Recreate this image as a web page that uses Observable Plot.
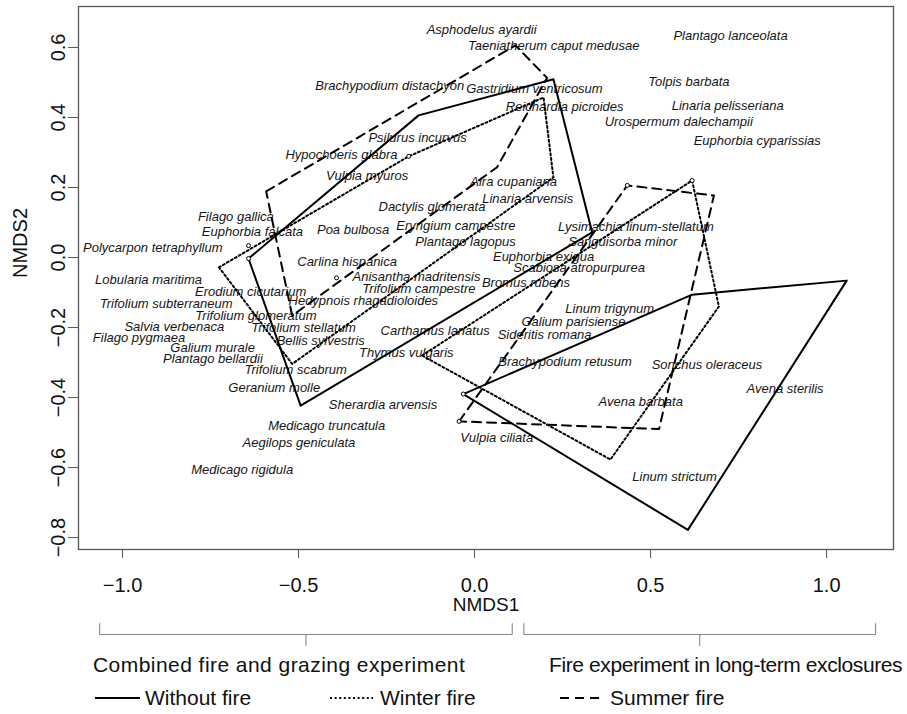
<!DOCTYPE html>
<html><head><meta charset="utf-8">
<script src="https://cdn.jsdelivr.net/npm/d3@7"></script>
<script src="https://cdn.jsdelivr.net/npm/@observablehq/plot@0.6"></script>
<style>
body{margin:0;background:#fff;}
#wrap{position:relative;width:907px;height:714px;font-family:"Liberation Sans",Arial,sans-serif;color:#111;overflow:hidden;}
#wrap svg{display:block;}
.grp{position:absolute;font-size:21px;line-height:22px;white-space:nowrap;}
.leg{position:absolute;font-size:21px;line-height:22px;white-space:nowrap;}
</style></head><body><div id="wrap"></div>
<script>
// ---- data ----
const speciesNames = ["Asphodelus ayardii","Taeniatherum caput medusae","Plantago lanceolata","Brachypodium distachyon","Gastridium ventricosum","Tolpis barbata","Reichardia picroides","Linaria pelisseriana","Urospermum dalechampii","Psilurus incurvus","Euphorbia cyparissias","Hypochoeris glabra","Vulpia myuros","Aira cupaniana","Filago gallica","Linaria arvensis","Dactylis glomerata","Euphorbia falcata","Poa bulbosa","Eryngium campestre","Lysimachia linum-stellatum","Polycarpon tetraphyllum","Plantago lagopus","Sanguisorba minor","Carlina hispanica","Euphorbia exigua","Scabiosa atropurpurea","Lobularia maritima","Anisantha madritensis","Bromus rubens","Erodium cicutarium","Trifolium campestre","Hedypnois rhagadioloides","Trifolium subterraneum","Linum trigynum","Trifolium glomeratum","Galium parisiense","Salvia verbenaca","Trifolium stellatum","Carthamus lanatus","Sideritis romana","Filago pygmaea","Bellis sylvestris","Galium murale","Thymus vulgaris","Plantago bellardii","Brachypodium retusum","Sonchus oleraceus","Trifolium scabrum","Geranium molle","Avena sterilis","Avena barbata","Sherardia arvensis","Medicago truncatula","Vulpia ciliata","Aegilops geniculata","Medicago rigidula","Linum strictum"];
const speciesNMDS1 = [0.020,0.225,0.727,-0.241,0.170,0.609,0.256,0.719,0.580,-0.162,0.803,-0.378,-0.305,0.111,-0.678,0.151,-0.121,-0.631,-0.345,-0.053,0.458,-0.914,-0.026,0.421,-0.362,0.196,0.297,-0.926,-0.165,0.146,-0.636,-0.158,-0.316,-0.876,0.384,-0.621,0.281,-0.853,-0.486,-0.112,0.199,-0.953,-0.437,-0.744,-0.194,-0.743,0.257,0.660,-0.508,-0.569,0.882,0.472,-0.260,-0.420,0.063,-0.499,-0.660,0.568];
const speciesNMDS2 = [0.649,0.606,0.634,0.491,0.482,0.501,0.429,0.434,0.387,0.341,0.332,0.293,0.232,0.215,0.117,0.168,0.144,0.074,0.079,0.091,0.089,0.029,0.044,0.044,-0.011,0.003,-0.029,-0.064,-0.054,-0.073,-0.097,-0.090,-0.125,-0.132,-0.147,-0.166,-0.183,-0.197,-0.201,-0.209,-0.220,-0.228,-0.237,-0.258,-0.271,-0.290,-0.299,-0.307,-0.321,-0.371,-0.375,-0.413,-0.420,-0.482,-0.516,-0.528,-0.606,-0.626];

const treatments = ["Without fire","Winter fire","Summer fire"];
const experiments = ["Combined fire and grazing experiment","Fire experiment in long-term exclosures"];

// convex hulls (NMDS1, NMDS2) of each treatment within each experiment
const hullCombinedWithout = [[-0.642,-0.003],[-0.159,0.406],[0.224,0.509],[0.334,0.072],[-0.494,-0.423]];
const hullCombinedWinter  = [[-0.726,-0.028],[-0.187,0.289],[0.196,0.457],[0.224,0.229],[-0.518,-0.304]];
const hullCombinedSummer  = [[-0.592,0.189],[0.116,0.606],[0.206,0.513],[0.064,0.258],[-0.518,-0.166]];
const hullExclosWithout   = [[-0.032,-0.390],[0.618,-0.106],[1.057,-0.066],[0.606,-0.778]];
const hullExclosWinter    = [[-0.149,-0.280],[0.618,0.220],[0.694,-0.140],[0.386,-0.577]];
const hullExclosSummer    = [[-0.044,-0.468],[0.434,0.206],[0.680,0.177],[0.524,-0.490]];

// small open markers
const markerNMDS1 = [-0.642,-0.642,-0.187,-0.392,0.434,0.618,-0.044,-0.032];
const markerNMDS2 = [-0.003,0.034,0.289,-0.058,0.206,0.220,-0.468,-0.390];

// experiment brackets along NMDS1
const bracketFrom = [-1.065, 0.140];
const bracketTo   = [0.107, 1.139];

const xTicks = [-1.0,-0.5,0.0,0.5,1.0];
const yTicks = [-0.8,-0.6,-0.4,-0.2,0.0,0.2,0.4,0.6];

// ---- build tables ----
const species = speciesNames.map((n,i)=>({name:n, x:speciesNMDS1[i], y:speciesNMDS2[i]}));
const hullSets = [
  [treatments[0], experiments[0], hullCombinedWithout],
  [treatments[1], experiments[0], hullCombinedWinter],
  [treatments[2], experiments[0], hullCombinedSummer],
  [treatments[0], experiments[1], hullExclosWithout],
  [treatments[1], experiments[1], hullExclosWinter],
  [treatments[2], experiments[1], hullExclosSummer]
];
const hullRows = hullSets.flatMap(([t,e,pts])=>pts.map(p=>({treatment:t, experiment:e, x:p[0], y:p[1]})));
const markers = markerNMDS1.map((v,i)=>({x:v, y:markerNMDS2[i]}));
const dashes = {"Without fire": null, "Winter fire": "2,2.6", "Summer fire": "9,6"};

const fmt = d3.format(".1f");
const xDomain = [-1.125, 1.190];
const font = '"Liberation Sans", Arial, sans-serif';

const lineMarks = treatments.map(t => Plot.line(hullRows.filter(r=>r.treatment===t), {
  x:"x", y:"y", z:"experiment", curve:"linear-closed", stroke:"#000", strokeWidth:2,
  strokeDasharray: dashes[t] || undefined
}));

const main = Plot.plot({
  width: 907, height: 616,
  marginLeft: 78, marginRight: 14, marginTop: 6, marginBottom: 67,
  x: {domain: xDomain},
  y: {domain: [-0.834, 0.717]},
  style: {fontFamily: font, background: "white", color: "#111", overflow: "visible"},
  marks: [
    Plot.frame({stroke: "#555", strokeWidth: 1.3}),
    Plot.axisX({ticks: xTicks, tickSize: 9, tickPadding: 19, tickFormat: fmt, fontSize: 20, label: null, stroke: "#555"}),
    Plot.axisY({ticks: yTicks, tickSize: 10, tickPadding: 4, tickRotate: -90, tickFormat: fmt, fontSize: 20, label: null, stroke: "#555"}),
    Plot.text(["NMDS1"], {text: d=>d, frameAnchor: "bottom", dy: 61, fontSize: 19}),
    Plot.text(["NMDS2"], {text: d=>d, frameAnchor: "left", dx: -58, rotate: -90, fontSize: 20}),
    Plot.text(species, {x:"x", y:"y", text:"name", fontSize: 13, fontStyle: "italic", fill: "#151515"}),
    ...lineMarks,
    Plot.dot(markers, {x:"x", y:"y", r: 2, stroke: "#000", strokeWidth: 1, fill: "white"})
  ]
});

const bracketRows = experiments.flatMap((e,i)=>{
  const a = bracketFrom[i], b = bracketTo[i], m = (a+b)/2;
  return [
    {g:e+"a", x:a, y:0},{g:e+"a", x:a, y:1},{g:e+"a", x:b, y:1},{g:e+"a", x:b, y:0},
    {g:e+"m", x:m, y:1},{g:e+"m", x:m, y:2}
  ];
});
const brackets = Plot.plot({
  width: 907, height: 36, marginLeft: 78, marginRight: 14, marginTop: 7, marginBottom: 7,
  x: {domain: xDomain, axis: null},
  y: {domain: [0, 2], reverse: true, axis: null},
  style: {background: "white"},
  marks: [Plot.line(bracketRows, {x:"x", y:"y", z:"g", stroke:"#8a8a8a", strokeWidth:1.1})]
});

const wrap = document.getElementById("wrap");
wrap.appendChild(main);
wrap.appendChild(brackets);

// experiment labels
const grpLeft = [93, 549];
const grpSpacing = ["0.45px", "-0.4px"];
experiments.forEach((e,i)=>{
  const d = document.createElement("div");
  d.className = "grp"; d.textContent = e;
  d.style.left = grpLeft[i] + "px"; d.style.top = "654px";
  d.style.letterSpacing = grpSpacing[i];
  wrap.appendChild(d);
});

// legend
const legLeft = [95, 330, 560];
treatments.forEach((t,i)=>{
  const d = document.createElement("div");
  d.className = "leg";
  d.style.left = legLeft[i] + "px"; d.style.top = "687px";
  const dash = dashes[t] ? `stroke-dasharray="${dashes[t]}"` : "";
  d.innerHTML = `<svg width="45" height="22" style="display:inline-block;vertical-align:top"><line x1="0" x2="${i===0?45:43}" y1="11" y2="11" stroke="#000" stroke-width="2" ${dash}/></svg><span style="margin-left:5px;vertical-align:top">${t}</span>`;
  wrap.appendChild(d);
});
</script></body></html>
